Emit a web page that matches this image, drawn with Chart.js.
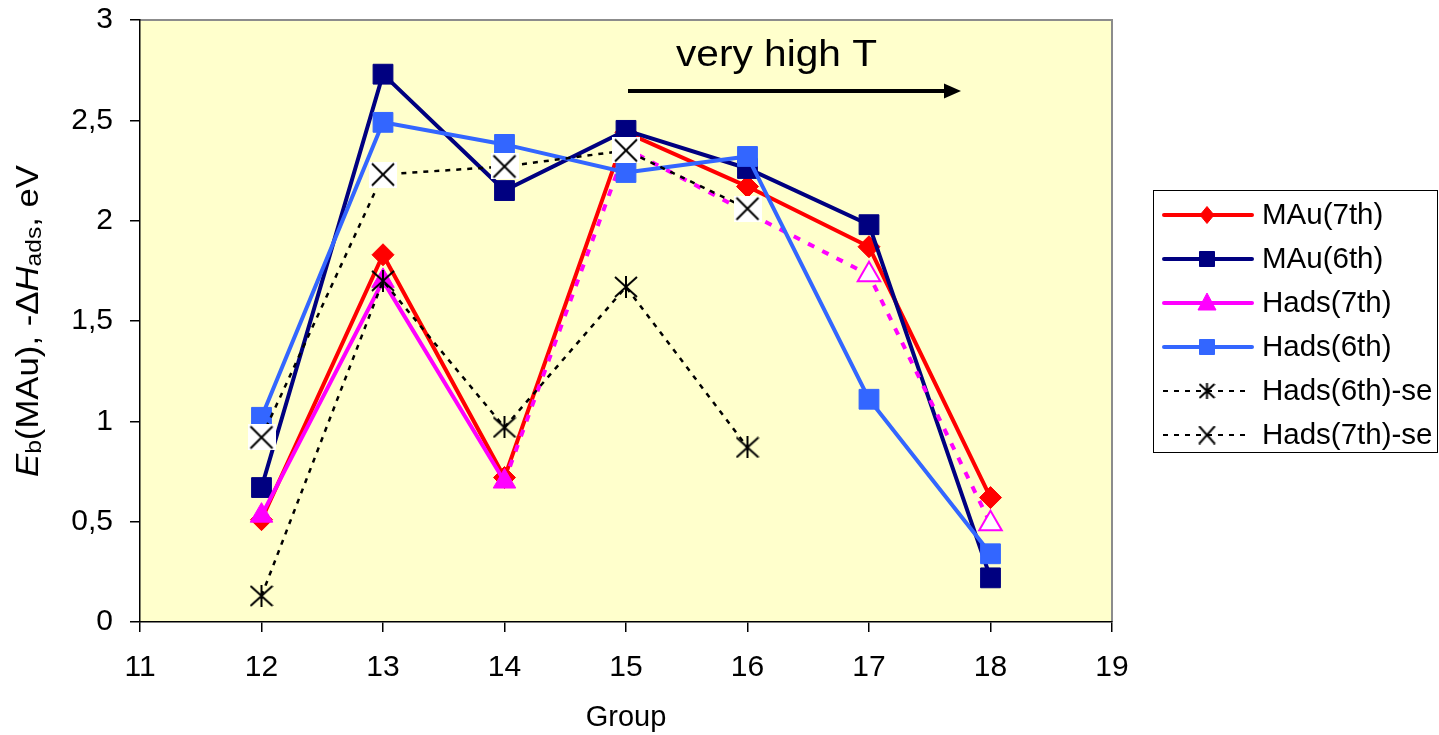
<!DOCTYPE html>
<html>
<head>
<meta charset="utf-8">
<script src="https://cdn.jsdelivr.net/npm/chart.js@4.4.1/dist/chart.umd.min.js"></script>
<style>
  html, body { margin: 0; padding: 0; background: #ffffff; }
  canvas { display: block; }
</style>
</head>
<body>
<canvas id="chart" width="1439" height="735"></canvas>
<script>
// Group numbers along the x axis
const groups = [12, 13, 14, 15, 16, 17, 18];

// Binding energies / adsorption enthalpies, eV
const mau7    = [0.51, 1.83, 0.72, 2.44, 2.17, 1.87, 0.62];
const mau6    = [0.67, 2.73, 2.15, 2.45, 2.26, 1.98, 0.22];
const hads7   = [0.53, 1.70, 0.70, 2.36, 2.04, 1.73, 0.49];
const hads6   = [1.02, 2.49, 2.38, 2.24, 2.32, 1.11, 0.34];
const hads6se = [0.13, 1.70, 0.97, 1.67, 0.87, null, null];
const hads7se = [0.92, 2.23, 2.27, 2.35, 2.06, null, null];

const seriesNames = ['MAu(7th)', 'MAu(6th)', 'Hads(7th)', 'Hads(6th)', 'Hads(6th)-se', 'Hads(7th)-se'];

// Axis ranges and labels
const xRange = [11, 19];
const yRange = [0, 3];
const yStep = 0.5;
const xTitle = 'Group';
const noteText = 'very high T';

const FONT = '"Liberation Sans", Arial, sans-serif';
Chart.defaults.font.family = FONT;
Chart.defaults.color = '#000';

function pts(vals) {
  return groups.map((g, i) => ({ x: g, y: vals[i] })).filter(p => p.y !== null);
}

// Marker images: "x" on a white square and a six-armed asterisk
function makeXBox(w, h, inset, box) {
  const c = document.createElement('canvas');
  c.width = w; c.height = h;
  const g = c.getContext('2d');
  if (box) { g.fillStyle = '#fff'; g.fillRect(0, 0, w, h); }
  g.strokeStyle = '#000'; g.lineWidth = 2;
  g.beginPath();
  g.moveTo(inset, inset - 1); g.lineTo(w - inset, h - inset + 1);
  g.moveTo(w - inset, inset - 1); g.lineTo(inset, h - inset + 1);
  g.stroke();
  return c;
}
function makeAsterisk(w, h) {
  const c = document.createElement('canvas');
  c.width = w; c.height = h;
  const g = c.getContext('2d');
  g.strokeStyle = '#000'; g.lineWidth = 2;
  g.beginPath();
  g.moveTo(1, 1); g.lineTo(w - 1, h - 1);
  g.moveTo(w - 1, 1); g.lineTo(1, h - 1);
  g.moveTo(w / 2, 0); g.lineTo(w / 2, h);
  g.stroke();
  return c;
}
const xBoxImg = makeXBox(28, 26, 3, true);
const asteriskImg = makeAsterisk(24, 22);

const RED = '#FF0000', NAVY = '#000080', MAGENTA = '#FF00FF', BLUE = '#3366FF';

// Plot area fill and frame
const plotFrame = {
  id: 'plotFrame',
  beforeDraw(chart) {
    const { ctx, chartArea: a } = chart;
    ctx.save();
    ctx.fillStyle = '#FFFFCC';
    ctx.fillRect(a.left, a.top, a.right - a.left, a.bottom - a.top);
    ctx.strokeStyle = '#8c8c8c';
    ctx.lineWidth = 2;
    ctx.beginPath();
    ctx.moveTo(a.left, a.top);
    ctx.lineTo(a.right, a.top);
    ctx.lineTo(a.right, a.bottom);
    ctx.stroke();
    ctx.restore();
  }
};

// Rotated y-axis title with italic symbols and subscripts
const yTitle = {
  id: 'yTitle',
  afterDraw(chart) {
    const ctx = chart.ctx;
    const parts = [
      { t: 'E', f: 'italic 31px ' + FONT, dy: 0 },
      { t: 'b', f: '22px ' + FONT, dy: 3 },
      { t: '(MAu), -\u0394', f: '31px ' + FONT, dy: 0 },
      { t: 'H', f: 'italic 31px ' + FONT, dy: 0 },
      { t: 'ads', f: '22px ' + FONT, dy: 3 },
      { t: ', eV', f: '31px ' + FONT, dy: 0 }
    ];
    ctx.save();
    let total = 0;
    parts.forEach(p => { ctx.font = p.f; p.w = ctx.measureText(p.t).width; total += p.w; });
    const targetLen = 312;
    const s = targetLen / total;
    ctx.translate(38, 477);
    ctx.rotate(-Math.PI / 2);
    ctx.scale(s, 1);
    ctx.fillStyle = '#000';
    ctx.textBaseline = 'alphabetic';
    let x = 0;
    parts.forEach(p => { ctx.font = p.f; ctx.fillText(p.t, x, p.dy); x += p.w; });
    ctx.restore();
  }
};

// Annotation: text and arrow above the plot
const noteArrow = {
  id: 'noteArrow',
  afterDraw(chart) {
    const ctx = chart.ctx;
    ctx.save();
    ctx.font = '37px ' + FONT;
    const w = ctx.measureText(noteText).width;
    ctx.translate(676, 66);
    ctx.scale(201 / w, 1);
    ctx.fillStyle = '#000';
    ctx.textBaseline = 'alphabetic';
    ctx.fillText(noteText, 0, 0);
    ctx.restore();

    ctx.save();
    ctx.strokeStyle = '#000';
    ctx.fillStyle = '#000';
    ctx.lineWidth = 4;
    ctx.beginPath();
    ctx.moveTo(628, 91);
    ctx.lineTo(947, 91);
    ctx.stroke();
    ctx.beginPath();
    ctx.moveTo(944, 83.5);
    ctx.lineTo(961, 91);
    ctx.lineTo(944, 98.5);
    ctx.closePath();
    ctx.fill();
    ctx.restore();
  }
};

// Boxed legend with a line sample and marker per series
function drawMarker(ctx, kind, x, y, color, fill) {
  ctx.save();
  ctx.fillStyle = fill || color;
  ctx.strokeStyle = color;
  ctx.lineWidth = 1;
  ctx.beginPath();
  if (kind === 'diamond') {
    ctx.moveTo(x, y - 8.5); ctx.lineTo(x + 7, y); ctx.lineTo(x, y + 8.5); ctx.lineTo(x - 7, y); ctx.closePath();
    ctx.fill(); ctx.stroke();
  } else if (kind === 'square') {
    ctx.rect(x - 7.5, y - 7.5, 15, 15); ctx.fill(); ctx.stroke();
  } else if (kind === 'triangle') {
    ctx.moveTo(x, y - 10); ctx.lineTo(x + 9, y + 7); ctx.lineTo(x - 9, y + 7); ctx.closePath();
    ctx.fill(); ctx.stroke();
  } else if (kind === 'asterisk') {
    ctx.drawImage(makeAsterisk(17, 16), x - 8.5, y - 8);
  } else if (kind === 'x') {
    ctx.drawImage(makeXBox(19, 19, 1.5, false), x - 9.5, y - 9.5);
  }
  ctx.restore();
}

const boxLegend = {
  id: 'boxLegend',
  afterDraw(chart) {
    const ctx = chart.ctx;
    const items = [
      { name: seriesNames[0], color: RED, marker: 'diamond', dotted: false },
      { name: seriesNames[1], color: NAVY, marker: 'square', dotted: false },
      { name: seriesNames[2], color: MAGENTA, marker: 'triangle', dotted: false },
      { name: seriesNames[3], color: BLUE, marker: 'square', dotted: false },
      { name: seriesNames[4], color: '#000', marker: 'asterisk', dotted: true },
      { name: seriesNames[5], color: '#000', marker: 'x', dotted: true }
    ];
    const bx = 1153.5, by = 190.5, bw = 284, bh = 262;
    ctx.save();
    ctx.fillStyle = '#fff';
    ctx.fillRect(bx, by, bw, bh);
    ctx.strokeStyle = '#000';
    ctx.lineWidth = 1;
    ctx.strokeRect(bx, by, bw, bh);
    const y0 = 215, dy = 44;
    items.forEach((it, i) => {
      const y = y0 + i * dy;
      ctx.save();
      ctx.strokeStyle = it.color;
      if (it.dotted) {
        ctx.lineWidth = 2;
        ctx.setLineDash([5, 6]);
        ctx.beginPath(); ctx.moveTo(1163, y); ctx.lineTo(1246, y); ctx.stroke();
      } else {
        ctx.lineWidth = 4;
        ctx.lineCap = 'round';
        ctx.beginPath(); ctx.moveTo(1164, y); ctx.lineTo(1252, y); ctx.stroke();
      }
      ctx.restore();
      drawMarker(ctx, it.marker, 1207, y, it.color);
      ctx.fillStyle = '#000';
      ctx.font = '29.5px ' + FONT;
      ctx.textBaseline = 'middle';
      ctx.fillText(it.name, 1262, y + 1);
    });
    ctx.restore();
  }
};

const magentaFill = ['#FF00FF', '#FF00FF', '#FF00FF', '#FFFFFF', '#FFFFFF', '#FFFFFF', '#FFFFFF'];

new Chart(document.getElementById('chart'), {
  type: 'line',
  data: {
    datasets: [
      {
        label: seriesNames[0], data: pts(mau7), order: 6,
        borderColor: RED, backgroundColor: RED, borderWidth: 4,
        pointStyle: 'rectRot', pointRadius: 11, pointBorderWidth: 1,
        pointBackgroundColor: RED, pointBorderColor: RED
      },
      {
        label: seriesNames[1], data: pts(mau6), order: 5,
        borderColor: NAVY, backgroundColor: NAVY, borderWidth: 4,
        pointStyle: 'rect', pointRadius: 14, pointBorderWidth: 1,
        pointBackgroundColor: NAVY, pointBorderColor: NAVY
      },
      {
        label: seriesNames[2], data: pts(hads7), order: 4,
        borderColor: MAGENTA, backgroundColor: MAGENTA, borderWidth: 4,
        pointStyle: 'triangle', pointRadius: [13, 13, 13, 0, 0, 13, 13],
        pointBorderWidth: [1, 1, 1, 1, 1, 2, 2],
        pointBackgroundColor: magentaFill, pointBorderColor: MAGENTA,
        segment: { borderDash: c => (c.p0DataIndex >= 2 ? [7, 9] : undefined) }
      },
      {
        label: seriesNames[3], data: pts(hads6), order: 3,
        borderColor: BLUE, backgroundColor: BLUE, borderWidth: 4,
        pointStyle: 'rect', pointRadius: 14, pointBorderWidth: 1,
        pointBackgroundColor: BLUE, pointBorderColor: BLUE
      },
      {
        label: seriesNames[4], data: pts(hads6se), order: 2,
        borderColor: '#000', backgroundColor: '#000', borderWidth: 2.5,
        borderDash: [5, 6],
        pointStyle: asteriskImg, pointRadius: 12
      },
      {
        label: seriesNames[5], data: pts(hads7se), order: 1,
        borderColor: '#000', backgroundColor: '#000', borderWidth: 2.5,
        borderDash: [5, 6],
        pointStyle: xBoxImg, pointRadius: 14
      }
    ]
  },
  options: {
    responsive: false,
    animation: false,
    events: [],
    layout: { padding: { left: 0, top: 20, right: 327, bottom: 0 } },
    plugins: { legend: { display: false }, tooltip: { enabled: false } },
    elements: { line: { tension: 0, fill: false } },
    scales: {
      x: {
        type: 'linear', min: xRange[0], max: xRange[1],
        ticks: { stepSize: 1, font: { size: 30 }, color: '#000', padding: 18 },
        grid: { drawOnChartArea: false, drawTicks: true, tickLength: 10, color: '#000', lineWidth: 1.5 },
        border: { display: true, color: '#000', width: 1.5 },
        title: { display: true, text: xTitle, font: { size: 29 }, color: '#000', padding: { top: 0, bottom: 0 } },
        afterFit: s => { s.height = 113; s.paddingLeft = 0; s.paddingRight = 0; }
      },
      y: {
        type: 'linear', min: yRange[0], max: yRange[1],
        ticks: {
          stepSize: yStep, font: { size: 30 }, color: '#000', padding: 17,
          callback: v => String(v).replace('.', ',')
        },
        grid: { drawOnChartArea: false, drawTicks: true, tickLength: 10, color: '#000', lineWidth: 1.5 },
        border: { display: true, color: '#000', width: 1.5 },
        afterFit: s => { s.width = 140; s.paddingTop = 0; s.paddingBottom = 0; }
      }
    }
  },
  plugins: [plotFrame, yTitle, noteArrow, boxLegend]
});
</script>
</body>
</html>
